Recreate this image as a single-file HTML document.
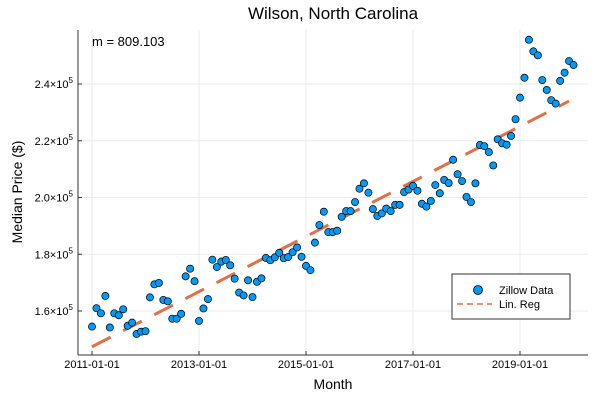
<!DOCTYPE html>
<html><head><meta charset="utf-8"><style>
body{margin:0;background:#fff;}
svg{font-family:"Liberation Sans","DejaVu Sans",sans-serif;}
</style></head><body>
<svg id="chart" width="600" height="400" xmlns="http://www.w3.org/2000/svg">
<rect width="600" height="400" fill="#fff"/>
<text x="333" y="19" font-size="17" text-anchor="middle">Wilson, North Carolina</text>
<g id="grid"></g>
<g id="reg"></g>
<g id="pts"></g>
<line x1="78" y1="30" x2="78" y2="355" stroke="#333" stroke-width="1"/>
<line x1="78" y1="355" x2="588" y2="355" stroke="#333" stroke-width="1"/>
<g id="ticks" font-size="11"></g>
<text x="92" y="46" font-size="13">m = 809.103</text>
<text x="333" y="389" font-size="14" text-anchor="middle">Month</text>
<text x="22" y="192" font-size="14" text-anchor="middle" transform="rotate(-90 22 192)">Median Price ($)</text>
<g>
<rect x="452" y="274" width="118" height="45" fill="#fff" stroke="#333" stroke-width="1"/>
<circle cx="478" cy="290" r="4.5" fill="#009af9" stroke="#000" stroke-width="0.8"/>
<text x="499" y="294" font-size="11">Zillow Data</text>
<line x1="457" y1="304" x2="492" y2="304" stroke="#e26f46" stroke-width="1.5" stroke-dasharray="6,4"/>
<text x="499" y="308" font-size="11">Lin. Reg</text>
</g>
</svg>
<script>
const values = [154.5,161,159.2,165.3,154.2,159.2,158.5,160.6,154.8,155.9,151.9,152.7,152.9,164.8,169.4,169.9,163.9,163.4,157.3,157.3,159,172.2,174.9,170.5,156.5,160.9,164.2,178.1,175.5,177.4,178,176.1,171.4,166.5,165.5,170.8,164.9,170.3,171.5,178.7,177.9,178.9,180.5,178.6,179,180.7,182.4,179.1,175.9,174.4,184.1,190.3,195,187.8,187.8,188.3,193.2,195.2,195.2,198.4,203.1,205,201.7,195.9,193.5,194.4,196.1,195.2,197.4,197.4,201.9,202.8,204.1,202.4,197.8,196.8,198.8,204.4,201.5,206.2,205.1,213.3,208.2,205.8,200.2,198.4,205,218.5,218.1,216,211.3,220.5,219.1,218.6,221.7,227.6,235.2,242.2,255.6,251.5,250.1,241.4,237.9,234.3,233.1,241.1,244,248.1,246.7];
const startYear = 2011;
const slope = 809.103;
const intercept = 147400;
const regEndMonth = 107;
const yTicks = [160000,180000,200000,220000,240000];
const yTickLabels = ["1.6","1.8","2.0","2.2","2.4"];
const xTickYears = [2011,2013,2015,2017,2019];
const xTickLabels = ["2011-01-01","2013-01-01","2015-01-01","2017-01-01","2019-01-01"];

const NS="http://www.w3.org/2000/svg";
const xS = m => 92 + m*(428/96);
const yS = v => 311 - (v-160000)/20000*56.75;
function mk(tag, attrs, parent){const e=document.createElementNS(NS,tag);for(const k in attrs)e.setAttribute(k,attrs[k]);parent.appendChild(e);return e;}
const grid=document.getElementById('grid'), ticks=document.getElementById('ticks');
yTicks.forEach((v,i)=>{
  const y=yS(v);
  const g=mk('line',{x1:78,x2:588,y1:y,y2:y,stroke:'#ebebeb','stroke-width':1},grid);
  
  
  mk('line',{x1:78,x2:82,y1:y,y2:y,stroke:'#333'},ticks);
  const t=mk('text',{x:73,y:y+4,'text-anchor':'end'},ticks);
  
  
  t.textContent=yTickLabels[i]+'×10';
  const s=mk('tspan',{dy:-5,'font-size':8},t); s.textContent='5';
});
xTickYears.forEach((yr,i)=>{
  const x=xS((yr-startYear)*12);
  const g=mk('line',{x1:x,x2:x,y1:30,y2:355,stroke:'#ebebeb','stroke-width':1},grid);
  
  
  mk('line',{x1:x,x2:x,y1:351,y2:355,stroke:'#333'},ticks);
  const t=mk('text',{x:x,y:368,'text-anchor':'middle'},ticks);
  
  
  t.textContent=xTickLabels[i];
});
const reg=document.getElementById('reg');
const rl=mk('line',{x1:xS(0),y1:yS(intercept),x2:xS(regEndMonth),y2:yS(intercept+slope*regEndMonth),stroke:'#e26f46','stroke-width':3,'stroke-dasharray':'21,14'},reg);


const pts=document.getElementById('pts');
values.forEach((v,i)=>{
  const c=mk('circle',{cx:xS(i),cy:yS(v*1000),r:3.6,fill:'#009af9',stroke:'#000','stroke-width':0.7},pts);
  
  
});
</script>
</body></html>
